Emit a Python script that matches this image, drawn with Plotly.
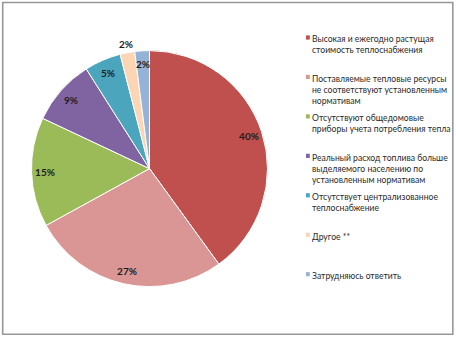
import math
import plotly.graph_objects as go

# Survey answers: problems with heat supply (share of respondents, %)
labels = [
    "Высокая и ежегодно растущая<br>стоимость теплоснабжения",
    "Поставляемые тепловые ресурсы<br>не соответствуют установленным<br>нормативам",
    "Отсутствуют общедомовые<br>приборы учета потребления тепла",
    "Реальный расход топлива больше<br>выделяемого населению по<br>установленным нормативам",
    "Отсутствует централизованное<br>теплоснабжение",
    "Другое **",
    "Затрудняюсь ответить",
]
values = [40, 27, 15, 9, 5, 2, 2]
colors = ["#C0504D", "#D99694", "#9BBB59", "#8064A2", "#4AA5BD", "#FCD5B5", "#95B3D7"]
outside_labels = {5}  # thin slice whose value label sits outside the pie

W, H = 456, 337
FONT = "Lato, 'Noto Sans', sans-serif"

# Pie geometry in pixels
cx, cy, r = 149.5, 168.6, 118.0

fig = go.Figure(
    go.Pie(
        labels=labels,
        values=values,
        sort=False,
        direction="clockwise",
        rotation=0,
        marker=dict(colors=colors, line=dict(color="white", width=1)),
        textinfo="none",
        hoverinfo="label+percent",
        showlegend=False,
        domain=dict(
            x=[(cx - r) / W, (cx + r) / W],
            y=[(H - cy - r) / H, (H - cy + r) / H],
        ),
    )
)

annotations = []
shapes = []

# Percentage labels placed along each slice's mid-angle
total = sum(values)
cum = 0.0
for i, v in enumerate(values):
    mid = 2 * math.pi * (cum + v / 2) / total
    cum += v
    f = 1.075 if i in outside_labels else 0.885
    px = cx + f * r * math.sin(mid)
    py = cy - f * r * math.cos(mid)
    annotations.append(dict(
        x=px / W, y=1 - py / H, xref="paper", yref="paper",
        text=f"{round(100 * v / total)}%", showarrow=False,
        xanchor="center", yanchor="middle", width=30,
        font=dict(family=FONT, size=10, color="#1c1c1c", weight="bold"),
    ))

# Legend on the right, rows evenly spaced
leg_x, leg_top, leg_step = 306.0, 39.3, 39.45
for i, (lab, col) in enumerate(zip(labels, colors)):
    ly = leg_top + i * leg_step
    shapes.append(dict(
        type="rect", xref="paper", yref="paper",
        x0=leg_x / W, x1=(leg_x + 3.8) / W,
        y0=1 - (ly + 0.3) / H, y1=1 - (ly - 3.9) / H,
        fillcolor=col, line=dict(width=0),
    ))
    annotations.append(dict(
        x=(leg_x + 3.5) / W, y=1 - (ly - 7.0) / H, xref="paper", yref="paper",
        text=lab, showarrow=False, align="left", width=150,
        xanchor="left", yanchor="top",
        font=dict(family=FONT, size=8.6, color="#2a2a2a"),
    ))

# Chart frame
shapes.append(dict(
    type="rect", xref="paper", yref="paper",
    x0=2.7 / W, x1=452.8 / W, y0=1 - 334.3 / H, y1=1 - 2.5 / H,
    line=dict(color="#979797", width=1.6), fillcolor="rgba(0,0,0,0)",
))

fig.update_layout(
    width=W, height=H,
    margin=dict(l=0, r=0, t=0, b=0),
    paper_bgcolor="white", plot_bgcolor="white",
    annotations=annotations, shapes=shapes,
    font=dict(family=FONT),
)

fig.write_html("out.html", include_plotlyjs=True, full_html=True,
               config={"displayModeBar": False})
